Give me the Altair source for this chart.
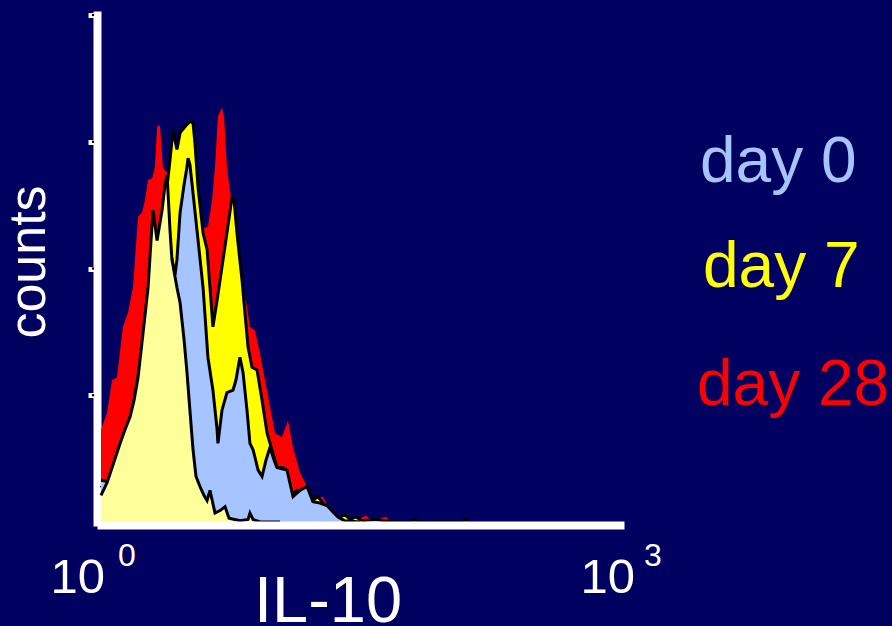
import altair as alt
import pandas as pd

# ---- data: x as log10(IL-10), y as counts ----
day28_logx = [0.000, 0.035, 0.064, 0.092, 0.127, 0.156, 0.185, 0.214, 0.237, 0.254, 0.272, 0.295,
              0.312, 0.324, 0.341, 0.358, 0.376, 0.399, 0.416, 0.439, 0.457, 0.486, 0.514, 0.532,
              0.549, 0.566, 0.590, 0.618, 0.642, 0.659, 0.676, 0.699, 0.711, 0.728, 0.746, 0.763,
              0.786, 0.815, 0.844, 0.861, 0.890, 0.919, 0.948, 0.977, 1.006, 1.046, 1.081, 1.110,
              1.150, 1.191, 1.225, 1.283, 1.312, 1.364, 1.410, 1.468, 1.532, 1.566, 1.647, 1.682, 1.844]
day28_counts = [73, 86, 112, 114, 154, 165, 185, 241, 244, 254, 270, 271,
                280, 312, 313, 280, 276, 279, 305, 292, 304, 309, 312, 312,
                292, 260, 232, 233, 254, 280, 320, 327, 320, 280, 260, 256,
                226, 187, 170, 154, 151, 133, 112, 91, 70, 67, 80, 59,
                39, 28, 19, 20, 12, 3, 2, 1, 5, 1, 4, 0, 0]

day7_logx = [0.000, 0.052, 0.110, 0.168, 0.225, 0.272, 0.312, 0.341, 0.370, 0.387, 0.399, 0.416,
             0.439, 0.457, 0.486, 0.514, 0.532, 0.543, 0.561, 0.590, 0.613, 0.630, 0.647, 0.671,
             0.699, 0.728, 0.757, 0.769, 0.786, 0.815, 0.832, 0.850, 0.873, 0.902, 0.931, 0.960,
             0.988, 1.017, 1.052, 1.092, 1.133, 1.168, 1.191, 1.225, 1.254, 1.283, 1.312, 1.341,
             1.370, 1.410, 1.439, 1.474, 1.509, 1.584, 1.642, 1.728, 1.798, 1.815, 1.832, 2.087,
             2.104, 2.121]
day7_counts = [27, 35, 53, 77, 124, 181, 221, 229, 254, 271, 286, 309,
               294, 307, 312, 316, 315, 299, 264, 228, 215, 185, 154, 175,
               201, 228, 256, 254, 228, 191, 165, 138, 122, 120, 96, 70,
               57, 43, 43, 20, 25, 24, 28, 17, 20, 15, 11, 7,
               3, 6, 2, 4, 1, 2, 1, 0, 0, 2, 0, 0,
               2, 0]

day0_logx = [0.000, 0.035, 0.081, 0.139, 0.197, 0.243, 0.283, 0.329, 0.370, 0.399, 0.428, 0.439,
             0.457, 0.480, 0.497, 0.503, 0.514, 0.526, 0.555, 0.590, 0.618, 0.647, 0.671, 0.676,
             0.699, 0.728, 0.763, 0.780, 0.803, 0.821, 0.844, 0.861, 0.879, 0.908, 0.931, 0.954,
             0.977, 1.000, 1.017, 1.075, 1.110, 1.150, 1.191, 1.225, 1.266, 1.306, 1.341, 1.370,
             1.410, 1.497]
day0_counts = [33, 32, 41, 65, 96, 144, 181, 219, 254, 215, 195, 207,
               244, 266, 280, 287, 282, 267, 230, 185, 130, 104, 73, 62,
               88, 102, 104, 112, 130, 118, 88, 62, 57, 41, 36, 49,
               59, 49, 43, 41, 20, 25, 28, 16, 15, 13, 8, 4,
               1, 0]

control_logx = [0.000, 0.035, 0.069, 0.110, 0.139, 0.168, 0.191, 0.214, 0.243, 0.272, 0.289, 0.301,
                0.324, 0.353, 0.370, 0.382, 0.399, 0.410, 0.439, 0.457, 0.480, 0.497, 0.514, 0.532,
                0.549, 0.572, 0.595, 0.613, 0.630, 0.659, 0.688, 0.717, 0.740, 0.803, 0.850, 0.861,
                0.879, 0.919, 1.035]
control_counts = [21, 31, 45, 62, 73, 83, 96, 114, 149, 185, 222, 246,
                  222, 246, 266, 274, 230, 207, 185, 173, 144, 118, 88, 57,
                  36, 28, 21, 17, 25, 7, 9, 12, 3, 1, 2, 7,
                  2, 0, 0]

legend_labels = ["day 0", "day 7", "day 28"]
legend_colors = ["#a6c4ff", "#ffff00", "#ff0000"]
tick_values = [1, 1000]
tick_exponents = ["0", "3"]
y_tick_values = [100, 200, 300, 400]

BG = "#000060"
FONT = "Liberation Sans"
W, H = 519, 507


def frame(lx, c):
    return pd.DataFrame({"IL10": [10 ** v for v in lx], "counts": c})


x_enc = alt.X("IL10:Q", scale=alt.Scale(type="log", domain=[1, 1000]),
              axis=alt.Axis(labels=False, ticks=False, title=None, grid=False,
                            domainColor="white", domainWidth=8, offset=3, zindex=1,
                            domainCap="square"))
y_enc = alt.Y("counts:Q", scale=alt.Scale(domain=[0, 400]),
              axis=alt.Axis(values=y_tick_values, labels=False, title=None, grid=False,
                            tickColor="white", tickSize=9, tickWidth=5,
                            domainColor="white", domainWidth=8, offset=4, zindex=0,
                            domainCap="square"))


def area(lx, c, color, outline):
    base = alt.Chart(frame(lx, c))
    layers = [base.mark_area(color=color, opacity=1).encode(x=x_enc, y=y_enc)]
    if outline:
        layers.append(base.mark_line(color="black", strokeWidth=3).encode(x=x_enc, y=y_enc))
    return layers


layers = []
layers += area(day28_logx, day28_counts, "#ff0000", False)
layers += area(day7_logx, day7_counts, "#ffff00", True)
layers += area(day0_logx, day0_counts, "#a6c4ff", True)
layers += area(control_logx, control_counts, "#ffff99", True)

# small dark dots inside the y tick squares
layers.append(alt.Chart(pd.DataFrame({"counts": y_tick_values}))
              .mark_square(size=5, color="black", opacity=1)
              .encode(x=alt.value(-8), y=y_enc))

# tick labels 10^0 and 10^3
tick_df = pd.DataFrame({"IL10": tick_values, "exp": tick_exponents})
for i, (dx_base, dx_exp) in enumerate([(4, 17), (15, 24)]):
    d = alt.Chart(tick_df.iloc[[i]])
    layers.append(d.mark_text(text="10", fontSize=49, font=FONT, color="white", align="right",
                              baseline="alphabetic", dx=dx_base)
                  .encode(x=x_enc, y=alt.value(578)))
    layers.append(d.mark_text(fontSize=32, font=FONT, color="white", align="left",
                              baseline="alphabetic", dx=dx_exp)
                  .encode(x=x_enc, y=alt.value(551), text="exp:N"))

one = pd.DataFrame({"a": [0]})
layers.append(alt.Chart(one).mark_text(text="IL-10", fontSize=65, font=FONT, color="white",
                                       align="center", baseline="alphabetic")
              .encode(x=alt.value(227), y=alt.value(607)))
layers.append(alt.Chart(one).mark_text(text="counts", fontSize=52, font=FONT, color="white",
                                       align="center", baseline="alphabetic", angle=270)
              .encode(x=alt.value(-56), y=alt.value(247)))

legend_pos = [(599, 167), (602, 272), (596, 390)]
for lab, col, (px, py) in zip(legend_labels, legend_colors, legend_pos):
    layers.append(alt.Chart(one).mark_text(text=lab, fontSize=64, font=FONT, color=col,
                                           align="left", baseline="alphabetic")
                  .encode(x=alt.value(px), y=alt.value(py)))

chart = alt.layer(*layers).properties(
    width=W, height=H,
    padding={"left": 101, "top": 15, "right": 272, "bottom": 104},
    autosize=alt.AutoSizeParams(type="none"),
    background=BG,
).configure_view(stroke=None)

page_css = ("html,body{margin:0;padding:0;background:#000060;overflow:hidden;}"
            ".vega-embed,.vega-embed svg{display:block;}")
chart.save("out.html", embed_options={"renderer": "svg", "actions": False,
                                      "defaultStyle": page_css})
